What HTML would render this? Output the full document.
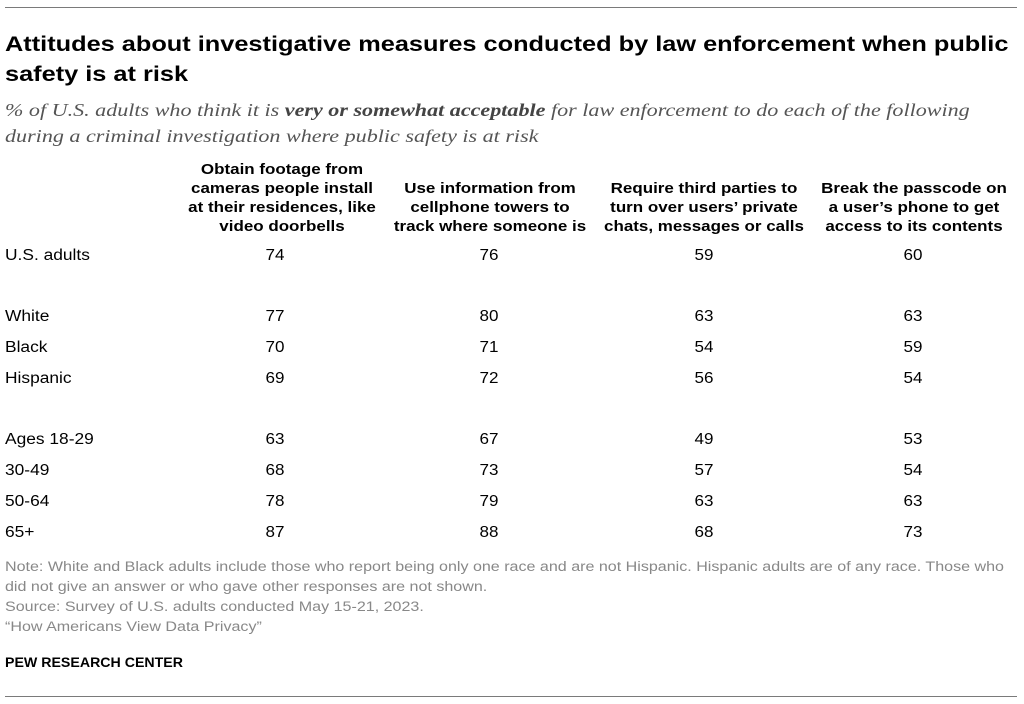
<!DOCTYPE html>
<html><head><meta charset="utf-8"><style>
body{margin:0;width:1024px;height:704px;background:#fff;position:relative;font-family:"Liberation Sans",sans-serif;color:#000;overflow:hidden}
.a{position:absolute;white-space:nowrap}
.hl{position:absolute;left:5px;width:1012px;height:1px;background:#7a7a7a}
.t{left:5px;font-weight:bold;font-size:21.5px;line-height:30px;transform:scaleX(1.178);transform-origin:0 0}
.s{left:5px;font-family:"Liberation Serif",serif;font-style:italic;font-size:17.5px;color:#555;line-height:26px;transform:scaleX(1.262);transform-origin:0 0}
.h{font-weight:bold;font-size:14.5px;line-height:19px;text-align:center;transform:translateX(-50%) scaleX(1.17)}
.r{font-size:15.5px;line-height:20px;transform:scaleX(1.12);transform-origin:0 0}
.v{font-size:15.5px;line-height:20px;transform:translateX(-50%) scaleX(1.1)}
.n{left:5px;font-size:13.5px;color:#888;line-height:20px;transform:scaleX(1.19);transform-origin:0 0}
</style></head><body>
<div class="hl" style="top:7px"></div>
<div class="a t" style="top:29px">Attitudes about investigative measures conducted by law enforcement when public<br>safety is at risk</div>
<div class="a s" style="top:97px">% of U.S. adults who think it is <b style="color:#444">very or somewhat acceptable</b> for law enforcement to do each of the following<br>during a criminal investigation where public safety is at risk</div>
<div class="a h" style="left:282px;top:161px">Obtain footage from<br>cameras people install<br>at their residences, like<br>video doorbells</div>
<div class="a h" style="left:490px;top:180px">Use information from<br>cellphone towers to<br>track where someone is</div>
<div class="a h" style="left:704px;top:180px">Require third parties to<br>turn over users’ private<br>chats, messages or calls</div>
<div class="a h" style="left:914px;top:180px">Break the passcode on<br>a user’s phone to get<br>access to its contents</div>
<div id="rows"></div>
<div class="a n" style="top:557px">Note: White and Black adults include those who report being only one race and are not Hispanic. Hispanic adults are of any race. Those who<br>did not give an answer or who gave other responses are not shown.<br>Source: Survey of U.S. adults conducted May 15-21, 2023.<br>“How Americans View Data Privacy”</div>
<div class="a" style="left:5px;top:654px;font-weight:bold;font-size:13.5px;line-height:18px;transform:scaleX(1.05);transform-origin:0 0">PEW RESEARCH CENTER</div>
<div class="hl" style="top:696px"></div>
<script>
var d=[["U.S. adults",254,74,76,59,60],["White",315,77,80,63,63],["Black",346,70,71,54,59],["Hispanic",377,69,72,56,54],["Ages 18-29",438,63,67,49,53],["30-49",469,68,73,57,54],["50-64",500,78,79,63,63],["65+",531,87,88,68,73]];
var x=[275,489,704,913],h="";
d.forEach(function(r){var t=r[1]-8;h+='<div class="a r" style="left:5px;top:'+t+'px">'+r[0]+'</div>';for(var i=0;i<4;i++)h+='<div class="a v" style="left:'+x[i]+'px;top:'+t+'px">'+r[i+2]+'</div>';});
document.getElementById("rows").innerHTML=h;
</script>
</body></html>
